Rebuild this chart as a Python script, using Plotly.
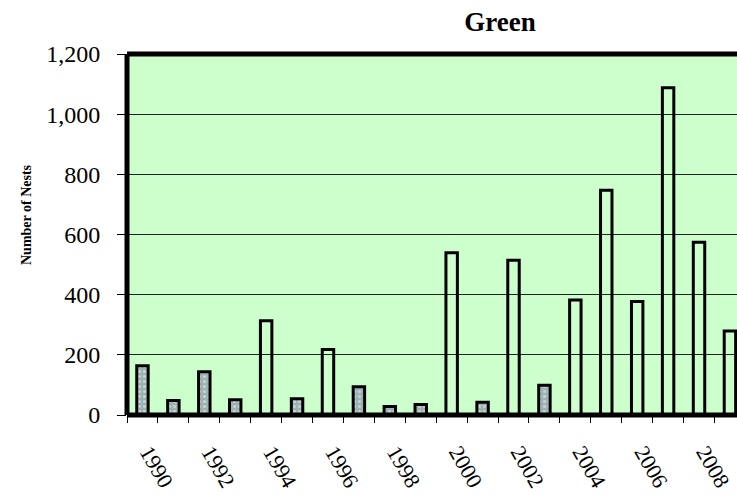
import plotly.graph_objects as go

years = list(range(1990, 2010))
# Bars drawn with the dotted (grey) fill
dotted_nests = [164, 48, 144, 51, None, 54, None, 94, 28, 35,
                None, 42, None, 99, None, None, None, None, None, None]
# Bars drawn open (outline only)
open_nests = [None, None, None, None, 313, None, 218, None, None, None,
              539, None, 514, None, 382, 747, 377, 1088, 574, 279]
tick_years = list(range(1990, 2010, 2))
tick_labels = [str(y) for y in tick_years]
y_ticks = [0, 200, 400, 600, 800, 1000, 1200]

W, H = 737, 495
L, R, T, B = 127, 0, 54, 80
plot_w = W - L - R
plot_h = H - T - B
px_per_year = 30.92
x_min = 1989.5
x_max = x_min + plot_w / px_per_year

FONT = "Liberation Serif, Times New Roman, serif"

fig = go.Figure()
fig.add_trace(go.Bar(
    x=years, y=dotted_nests, width=0.37,
    marker=dict(color="#9db2b2",
                line=dict(color="black", width=3),
                pattern=dict(shape=".", fgcolor="#eef4f4", bgcolor="#9db2b2",
                             size=5, solidity=0.3, fillmode="overlay")),
    showlegend=False, hoverinfo="x+y"))
fig.add_trace(go.Bar(
    x=years, y=open_nests, width=0.37,
    marker=dict(color="rgba(0,0,0,0)", line=dict(color="black", width=3)),
    showlegend=False, hoverinfo="x+y"))

fig.update_layout(
    width=W, height=H,
    margin=dict(l=L, r=R, t=T, b=B, autoexpand=False),
    paper_bgcolor="white", plot_bgcolor="#CCFFCC",
    barmode="overlay",
    font=dict(family=FONT, color="black"),
    title=dict(text="<b>Green</b>", x=500 / W, xanchor="center", xref="container",
               y=1 - 22 / H, yanchor="middle", yref="container",
               font=dict(family=FONT, size=27, color="black")),
)

fig.update_xaxes(
    range=[x_min, x_max], tickmode="array", tickvals=tick_years, ticktext=tick_labels,
    tickangle=60, ticks="", tickfont=dict(family=FONT, size=22, color="black"),
    showgrid=False, zeroline=False, showline=False, automargin=False,
    ticklabelstandoff=19, ticklabelshift=6, ticklabeloverflow="allow",
    minor=dict(tick0=1989.5, dtick=1, ticks="outside", ticklen=7,
               tickcolor="black", tickwidth=1, showgrid=False),
)
fig.update_yaxes(
    range=[0, 1200], tickmode="array", tickvals=y_ticks, tickformat=",",
    ticks="outside", ticklen=9, tickcolor="black", tickwidth=1,
    tickfont=dict(family=FONT, size=24, color="black"),
    showgrid=True, gridcolor="#222222", gridwidth=1, automargin=False,
    zeroline=False, showline=False, ticklabelstandoff=12,
)

# Thick plot-area border (left, top, bottom)
for x0, y0, x1, y1 in [(0, 0, 0, 1), (0, 1, 1, 1), (0, 0, 1, 0)]:
    fig.add_shape(type="line", xref="paper", yref="paper",
                  x0=x0, y0=y0, x1=x1, y1=y1,
                  line=dict(color="black", width=5), layer="above")

fig.add_annotation(text="<b>Number of Nests</b>", xref="paper", yref="paper",
                   x=(26 - L) / plot_w, y=(H - B - 215) / plot_h,
                   xanchor="center", yanchor="middle",
                   showarrow=False, textangle=-90,
                   font=dict(family=FONT, size=14, color="black"))

fig.write_html("out.html", config={"displayModeBar": False},
               post_script="document.body.style.margin='0px';")
